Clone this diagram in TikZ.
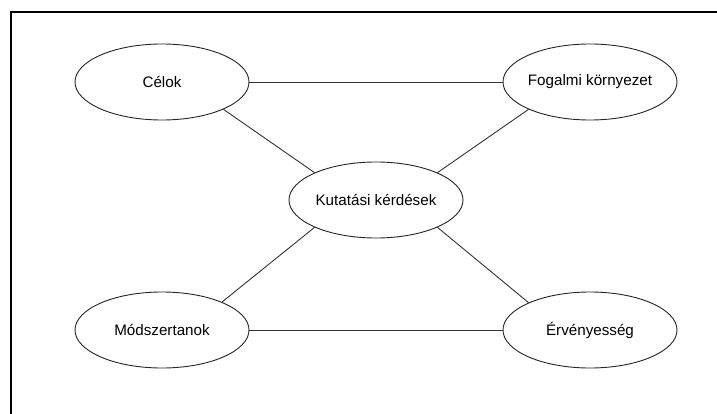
\documentclass[tikz,border=0pt]{standalone}
\usepackage{fontspec}
\setmainfont{Liberation Sans}
\usetikzlibrary{shapes.geometric}

\tikzset{
  bubble/.style={ellipse, draw=black!85, line width=0.9pt, fill=white,
    minimum width=174pt, minimum height=76pt, inner sep=0pt,
    font=\fontsize{15.2}{18}\selectfont},
  link/.style={draw=black!80, line width=0.9pt},
  frame/.style={draw=black, line width=1.3pt}
}
\newcommand\bubbletext[1]{\makebox[0pt]{#1}}

\begin{document}
\begin{tikzpicture}[x=1pt, y=-1pt]
  \useasboundingbox[fill=white] (0,0) rectangle (717,414);

  % outer frame (top and left edges)
  \coordinate (fr) at (717,12);
  \coordinate (fc) at (11,12);
  \coordinate (fb) at (11,414);
  \draw[frame] (fr) -- (fc) -- (fb);

  % the five topics
  \node[bubble] (celok)  at (162,82)  {\bubbletext{Célok}};
  \node[bubble] (fogalm) at (590,82)  {\bubbletext{Fogalmi környezet}};
  \node[bubble] (kutat)  at (376,200) {\bubbletext{Kutatási kérdések}};
  \node[bubble] (modsz)  at (162,330) {\bubbletext{Módszertanok}};
  \node[bubble] (erveny) at (590,330) {\bubbletext{Érvényesség}};

  % connections
  \draw[link] (celok.east) -- (fogalm.west);
  \draw[link] (modsz.east) -- (erveny.west);
  \draw[link] (celok.-24)  -- (kutat.156);
  \draw[link] (fogalm.204) -- (kutat.24);
  \draw[link] (kutat.-156) -- (modsz.25);
  \draw[link] (kutat.-24)  -- (erveny.156);
\end{tikzpicture}
\end{document}
